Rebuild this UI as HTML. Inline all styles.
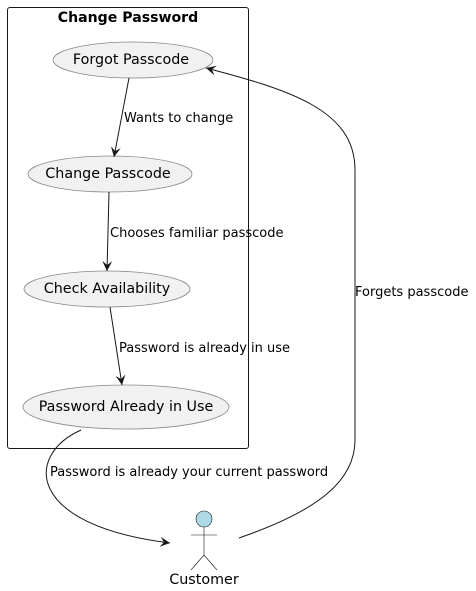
<!DOCTYPE html>
<html><head><meta charset="utf-8"><style>
html,body{margin:0;padding:0;background:#fff;width:476px;height:591px;overflow:hidden}
text{font-family:"DejaVu Sans","Liberation Sans",sans-serif;fill:#000}
</style></head><body>
<svg width="476" height="591" viewBox="0 0 476 591" xmlns="http://www.w3.org/2000/svg">
<defs><marker id="a" markerWidth="12" markerHeight="10" refX="10" refY="5" orient="auto" markerUnits="userSpaceOnUse"><path d="M0,0 L10,5 L0,10 L4,5 Z" fill="#181818"/></marker></defs>
<rect x="7.5" y="7.5" width="241" height="441" rx="2.5" fill="none" stroke="#181818" stroke-width="1"/>
<text x="128" y="22" font-size="14.1" font-weight="bold" text-anchor="middle">Change Password</text>
<g fill="#f1f1f1" stroke="#888" stroke-width="0.8">
<ellipse cx="133" cy="60" rx="80" ry="18"/>
<ellipse cx="110" cy="174" rx="82" ry="18"/>
<ellipse cx="107" cy="289" rx="83" ry="18"/>
<ellipse cx="126" cy="407" rx="103" ry="22"/>
</g>
<g font-size="14.3" text-anchor="middle">
<text x="131" y="64">Forgot Passcode</text>
<text x="108" y="178">Change Passcode</text>
<text x="107" y="293">Check Availability</text>
<text x="126" y="411">Password Already in Use</text>
</g>
<g stroke="#181818" fill="none" stroke-width="1">
<path d="M129,78 L114,157" marker-end="url(#a)"/>
<path d="M109,192 L107,271" marker-end="url(#a)"/>
<path d="M110,307 L122,385" marker-end="url(#a)"/>
<path d="M81,430 C25,455 25,525 170,543" marker-end="url(#a)"/>
<path d="M239,538 C320,510 355,480 355,440 L355,170 C355,110 290,90 206,68" marker-end="url(#a)"/>
</g>
<g font-size="13">
<text x="124" y="122">Wants to change</text>
<text x="110" y="237">Chooses familiar passcode</text>
<text x="119" y="352">Password is already in use</text>
<text x="50" y="476">Password is already your current password</text>
<text x="355" y="296">Forgets passcode</text>
</g>
<circle cx="204" cy="519" r="8" fill="#add8e6" stroke="#181818" stroke-width="0.6"/>
<g stroke="#181818" stroke-width="0.6" fill="none">
<path d="M204,527 L204,555 M191,535 L217,535 M204,555 L191,570 M204,555 L217,570"/>
</g>
<text x="204" y="584" font-size="14.3" text-anchor="middle">Customer</text>
</svg>
</body></html>
